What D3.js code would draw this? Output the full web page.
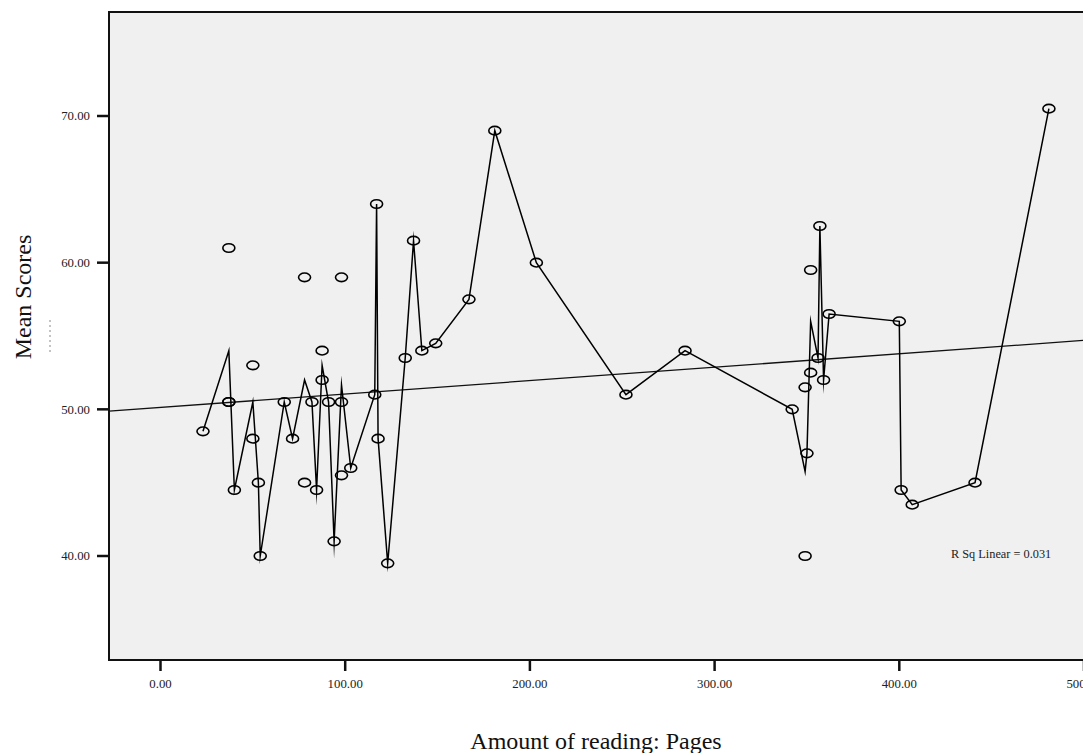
<!DOCTYPE html>
<html>
<head>
<meta charset="utf-8">
<script src="https://cdn.jsdelivr.net/npm/d3@7"></script>
<style>
  body { margin: 0; background: #fff; }
  svg { display: block; }
</style>
</head>
<body>
<div id="chart"></div>
<script>
// amount of reading (pages) vs mean score, one entry per student
var pages  = [23, 37, 37, 37, 40, 50, 50, 53, 54, 67, 71.5, 78, 78, 82, 84.5, 87.5, 87.5, 91, 94,
              98, 98, 98, 103, 116, 117, 117.8, 123, 132.5, 137, 141.5, 149, 167, 181, 203.5,
              252, 284, 342, 349, 349, 350, 352, 352, 356, 357, 359, 362, 400, 401, 407, 441, 481];
var scores = [48.5, 61, 50.5, 50.5, 44.5, 53, 48, 45, 40, 50.5, 48, 59, 45, 50.5, 44.5, 54, 52, 50.5, 41,
              59, 50.5, 45.5, 46, 51, 64, 48, 39.5, 53.5, 61.5, 54, 54.5, 57.5, 69, 60,
              51, 54, 50, 40, 51.5, 47, 52.5, 59.5, 53.5, 62.5, 52, 56.5, 56, 44.5, 43.5, 45, 70.5];

var xTicks = [0, 100, 200, 300, 400, 500];
var yTicks = [40, 50, 60, 70];

// fit line
var fitIntercept = 50.13;
var fitSlope = 0.00914;
var rSqLabel = "R Sq Linear = 0.031";

var width = 1083, height = 753;
var serif = "'Liberation Serif', 'DejaVu Serif', serif";

var x = d3.scaleLinear().domain([0, 500]).range([160.5, 1084]);
var y = d3.scaleLinear().domain([40, 70]).range([556, 116]);

var plotLeft = 109, plotTop = 12, plotBottom = 660, plotRight = 1100;

var svg = d3.select("#chart")
    .append("svg")
    .attr("width", width)
    .attr("height", height);

svg.append("defs").append("clipPath")
    .attr("id", "plotclip")
    .append("rect")
    .attr("x", plotLeft)
    .attr("y", plotTop)
    .attr("width", plotRight - plotLeft)
    .attr("height", plotBottom - plotTop);

svg.append("rect")
    .attr("x", plotLeft)
    .attr("y", plotTop)
    .attr("width", plotRight - plotLeft)
    .attr("height", plotBottom - plotTop)
    .attr("fill", "#f0f0f0")
    .attr("stroke", "#111")
    .attr("stroke-width", 2);

var plot = svg.append("g").attr("clip-path", "url(#plotclip)");

// linear fit
var x0 = x.invert(plotLeft), x1 = x.invert(plotRight);
plot.append("line")
    .attr("x1", x(x0))
    .attr("y1", y(fitIntercept + fitSlope * x0))
    .attr("x2", x(x1))
    .attr("y2", y(fitIntercept + fitSlope * x1))
    .attr("stroke", "#111")
    .attr("stroke-width", 1.3);

// interpolation line goes through the mean score at each page count
var points = pages.map((p, i) => ({ x: p, y: scores[i] }));
var means = d3.rollups(points, v => d3.mean(v, d => d.y), d => d.x)
    .sort((a, b) => a[0] - b[0]);

var line = d3.line()
    .x(d => x(d[0]))
    .y(d => y(d[1]));

plot.append("path")
    .datum(means)
    .attr("d", line)
    .attr("fill", "none")
    .attr("stroke", "#000")
    .attr("stroke-width", 1.5)
    .attr("stroke-linejoin", "miter")
    .attr("stroke-miterlimit", 30);

plot.append("g")
    .selectAll("ellipse")
    .data(points)
    .join("ellipse")
    .attr("cx", d => x(d.x))
    .attr("cy", d => y(d.y))
    .attr("rx", 6)
    .attr("ry", 4.3)
    .attr("fill", "none")
    .attr("stroke", "#000")
    .attr("stroke-width", 1.6);

plot.append("text")
    .attr("x", 951)
    .attr("y", 558)
    .attr("font-family", serif)
    .attr("font-size", 12.3)
    .attr("fill", "#222")
    .text(rSqLabel);

// axes
var xAxis = svg.append("g");
xAxis.selectAll("line")
    .data(xTicks)
    .join("line")
    .attr("x1", d => x(d))
    .attr("x2", d => x(d))
    .attr("y1", plotBottom)
    .attr("y2", plotBottom + 11)
    .attr("stroke", "#111")
    .attr("stroke-width", 2.5);
xAxis.selectAll("text")
    .data(xTicks)
    .join("text")
    .attr("x", d => x(d))
    .attr("y", 688)
    .attr("text-anchor", "middle")
    .attr("font-family", serif)
    .attr("font-size", 12.8)
    .attr("fill", "#222")
    .text(d3.format(".2f"));

var yAxis = svg.append("g");
yAxis.selectAll("line")
    .data(yTicks)
    .join("line")
    .attr("x1", plotLeft - 12)
    .attr("x2", plotLeft)
    .attr("y1", d => y(d))
    .attr("y2", d => y(d))
    .attr("stroke", "#111")
    .attr("stroke-width", 2.5);
yAxis.selectAll("text")
    .data(yTicks)
    .join("text")
    .attr("x", 90)
    .attr("y", d => y(d))
    .attr("dy", "0.35em")
    .attr("text-anchor", "end")
    .attr("font-family", serif)
    .attr("font-size", 12.8)
    .attr("fill", "#222")
    .text(d3.format(".2f"));

// titles
svg.append("text")
    .attr("transform", "translate(31,297) rotate(-90)")
    .attr("text-anchor", "middle")
    .attr("font-family", serif)
    .attr("font-size", 24)
    .attr("fill", "#111")
    .text("Mean Scores");

svg.append("line")
    .attr("x1", 50).attr("x2", 50)
    .attr("y1", 320).attr("y2", 352)
    .attr("stroke", "#888")
    .attr("stroke-width", 1)
    .attr("stroke-dasharray", "2,3");

svg.append("text")
    .attr("x", 596)
    .attr("y", 749)
    .attr("text-anchor", "middle")
    .attr("font-family", serif)
    .attr("font-size", 24)
    .attr("fill", "#111")
    .text("Amount of reading: Pages");
</script>
</body>
</html>
